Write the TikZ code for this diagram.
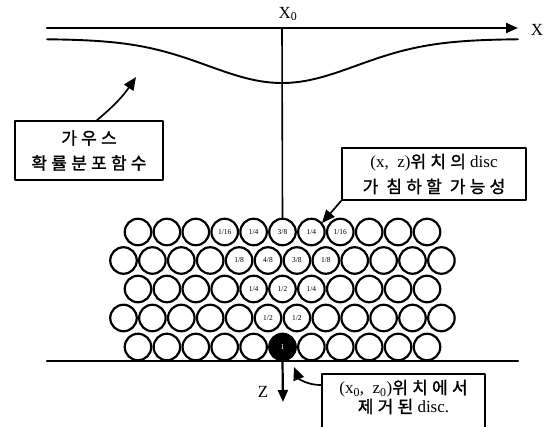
\documentclass[tikz,border=0pt]{standalone}
\usepackage{fontspec}
\setmainfont{Liberation Serif}
\newfontfamily\kr[LetterSpace=25, FakeBold=1.5]{Noto Sans CJK KR}
\usetikzlibrary{arrows.meta}
\begin{document}
\begin{tikzpicture}[x=1pt, y=-1pt, line cap=round, line join=round, every node/.style={font=\fontsize{17}{25}\selectfont}]
  \tikzset{disc/.style={draw=black, circle, line width=2.2pt, minimum size=26.5pt, inner sep=0pt, font=\fontsize{7.5}{8}\selectfont},
    d-5-6/.style={fill=black, text=white},
    axis/.style={line width=2.2pt, -{Triangle[length=12pt, width=10pt]}},
    note/.style={draw=black, line width=1.7pt, align=center, inner sep=0pt},
    pointer/.style={line width=1.7pt, -{Triangle[length=13pt, width=11pt]}}}
  \useasboundingbox (0,0) rectangle (546,427);

  % axes
  \coordinate (xl) at (47,28);
  \coordinate (xr) at (518,28);
  \coordinate (x0) at (282,28);
  \draw[axis] (xl) -- (xr);
  \node (xlab) at (537,30) {X};
  \node (x0lab) at (288,14) {X\textsubscript{0}};
  \coordinate (gl) at (47,361);
  \coordinate (gr) at (518,361);
  \draw[line width=2.2pt] (gl) -- (gr);

  % gauss curve
  \draw[line width=1.9pt] plot[domain=47:518, samples=90, smooth] (\x, {39+44*exp(-(((\x-282)/105)^2))});

  % discs
  \foreach \r/\y/\n/\s in {1/232/11/138, 2/260.5/12/123.5, 3/289/11/138, 4/318/12/123.5, 5/347/11/138} {
    \foreach \k in {1,...,\n} {
      \node[disc, d-\r-\k/.try] (d-\r-\k) at ({\s+(\k-1)*28.9},\y) {};
    }
  }
  \foreach \d/\t in {d-1-4/{1/16},d-1-5/{1/4},d-1-6/{3/8},d-1-7/{1/4},d-1-8/{1/16},
    d-2-5/{1/8},d-2-6/{4/8},d-2-7/{3/8},d-2-8/{1/8},
    d-3-5/{1/4},d-3-6/{1/2},d-3-7/{1/4},
    d-4-6/{1/2},d-4-7/{1/2}} {
    \node[font=\fontsize{7.5}{8}\selectfont, inner sep=0pt] (t-\d) at (\d) {\t};
  }
  \node[font=\fontsize{7.5}{8}\selectfont, text=white, inner sep=0pt] (t-black) at (d-5-6) {1};

  % x0 line and z axis
  \draw[line width=1.6pt] (x0) -- (d-1-6.north);
  \coordinate (zend) at (283,402);
  \draw[axis] (d-5-6.south) -- (zend);
  \node (zlab) at (263,392) {Z};

  % notes
  \node[note, minimum width=148pt, minimum height=59pt] (gauss) at (89,150.5) {{\kr 가우스}\\{\kr 확률분포함수}};
  \coordinate (gtip) at (136,77);
  \draw[pointer] ([xshift=8pt]gauss.north) to[bend right=8] (gtip);

  \node[note, minimum width=184pt, minimum height=52pt] (prob) at (434,174) {(x,\ \ z){\kr 위치의} disc\\{\kr 가 침하할 가능성}};
  \coordinate (ptip) at (322,223);
  \draw[pointer] (prob.south west) -- (ptip);

  \node[note, font=\fontsize{17}{19}\selectfont, minimum width=163pt, inner ysep=6pt, text depth=40pt, anchor=north] (removed) at (403.5,373) {(x\textsubscript{0},\ \ z\textsubscript{0}){\kr 위치에서}\\{\kr 제거된} disc.};
  \coordinate (rtip) at (294,367);
  \draw[pointer] ([yshift=-12pt]removed.north west) to[bend left=35] (rtip);
\end{tikzpicture}
\end{document}
